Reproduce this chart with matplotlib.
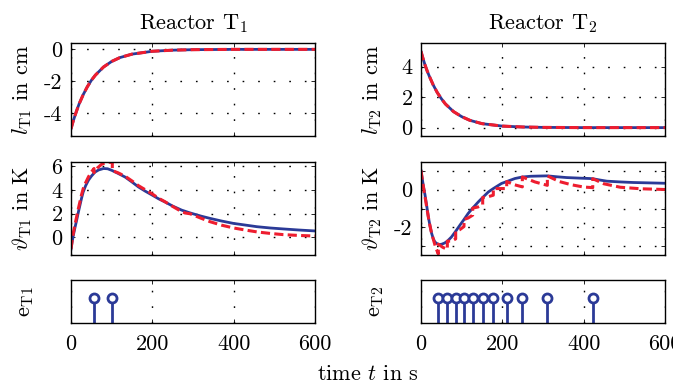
import matplotlib
matplotlib.use("Agg")
import matplotlib.pyplot as plt
from matplotlib.ticker import FuncFormatter

plt.rcParams['font.family'] = 'serif'
plt.rcParams['font.serif'] = ['cmr10']
plt.rcParams['mathtext.fontset'] = 'cm'
plt.rcParams['axes.unicode_minus'] = False

# ---------------- data ----------------
t_l = [0, 5, 10, 15, 20, 30, 40, 50, 60, 80, 100, 120, 150, 200, 250, 300, 400, 500, 600]
l1_blue = [-5.0, -4.55, -4.15, -3.78, -3.43, -2.85, -2.36, -1.95, -1.62, -1.11, -0.76, -0.52,
           -0.30, -0.12, -0.05, -0.02, 0.0, 0.0, 0.0]
l1_red = [-5.0, -4.55, -4.15, -3.78, -3.43, -2.85, -2.36, -1.95, -1.62, -1.11, -0.76, -0.52,
          -0.30, -0.12, -0.05, -0.02, 0.0, 0.0, 0.0]
l2_blue = [5.0, 4.53, 4.1, 3.73, 3.4, 2.8, 2.3, 1.9, 1.55, 1.05, 0.72, 0.48,
           0.26, 0.10, 0.04, 0.015, 0.0, 0.0, 0.0]
l2_red = [5.0, 4.53, 4.1, 3.73, 3.4, 2.8, 2.3, 1.9, 1.55, 1.05, 0.72, 0.48,
          0.26, 0.10, 0.04, 0.015, 0.0, 0.0, 0.0]

t_th1_blue = [0, 3, 6, 10, 14, 18, 22, 26, 30, 36, 43, 50, 59, 68, 80, 90, 100, 115, 133, 150,
              166, 183, 200, 215, 231, 250, 272, 293, 320, 342, 370, 399, 430, 457, 490, 522,
              560, 600]
th1_blue = [-1.0, -0.35, 0.2, 0.85, 1.45, 2.1, 2.7, 3.3, 3.82, 4.35, 4.82, 5.15, 5.5, 5.68, 5.8,
            5.78, 5.65, 5.4, 5.08, 4.66, 4.24, 3.88, 3.55, 3.25, 2.98, 2.63, 2.29, 2.05, 1.78,
            1.59, 1.37, 1.17, 1.02, 0.89, 0.78, 0.70, 0.61, 0.53]
t_th1_red = [0, 3, 6, 10, 14, 18, 22, 26, 30, 36, 43, 50, 56.6, 56.6, 65, 75, 85, 95, 101.6,
             101.6, 115, 133, 150, 166, 183, 200, 215, 231, 250, 265, 280, 293, 320, 342, 370,
             400, 430, 457, 490, 522, 560, 600]
th1_red = [-1.0, -0.25, 0.4, 1.1, 1.75, 2.4, 3.0, 3.6, 4.1, 4.6, 5.1, 5.5, 5.8, 5.45, 5.85, 6.15,
           6.3, 6.33, 6.3, 5.62, 5.45, 5.15, 4.75, 4.35, 4.0, 3.65, 3.3, 3.0, 2.6, 2.3, 2.05,
           1.98, 1.6, 1.31, 1.02, 0.78, 0.6, 0.45, 0.32, 0.22, 0.15, 0.1]

t_th2_blue = [0, 5, 10, 14, 18, 22, 26, 30, 34, 38.5, 42.6, 46, 51, 58, 64.8, 75, 85.3, 95,
              105.7, 116, 127.1, 141, 151.7, 165.5, 177.8, 198, 210.8, 231, 249.2, 270, 290,
              310.7, 335, 358, 390, 415, 422.3, 440, 457, 490, 522, 560, 600]
th2_blue = [1.0, 0.3, -0.3, -0.85, -1.44, -1.9, -2.3, -2.58, -2.76, -2.84, -2.88, -2.9, -2.88,
            -2.82, -2.72, -2.5, -2.2, -1.9, -1.58, -1.26, -0.98, -0.65, -0.42, -0.13, 0.05,
            0.32, 0.42, 0.58, 0.66, 0.70, 0.71, 0.72, 0.67, 0.63, 0.60, 0.58, 0.57, 0.50,
            0.44, 0.40, 0.37, 0.35, 0.33]
t_th2_red = [0, 5, 10, 15, 20, 25, 30, 36, 42.6,
             42.6, 54, 64.8,
             64.8, 75, 85.3,
             85.3, 95, 105.7,
             105.7, 116, 127.1,
             127.1, 140, 151.7,
             151.7, 165, 177.8,
             177.8, 195, 210.8,
             210.8, 230, 249.2,
             249.2, 280, 310.7,
             310.7, 340, 370, 400, 422.3,
             422.3, 450, 490, 540, 600]
th2_red = [1.0, 0.25, -0.4, -1.05, -1.7, -2.2, -2.6, -3.05, -3.4,
           -2.88, -3.05, -3.15,
           -2.72, -2.72, -2.6,
           -2.2, -2.12, -1.95,
           -1.58, -1.5, -1.35,
           -0.98, -0.92, -0.8,
           -0.42, -0.38, -0.3,
           0.05, 0.05, 0.05,
           0.42, 0.25, 0.14,
           0.66, 0.40, 0.22,
           0.72, 0.42, 0.25, 0.13, 0.10,
           0.57, 0.30, 0.12, 0.04, 0.0]

events_T1 = [57, 102]
events_T2 = [42.6, 64.8, 85.3, 105.7, 127.1, 151.7, 177.8, 210.8, 249.2, 310.7, 422.3]

xticks = [0, 200, 400, 600]
titles = [r"Reactor $\mathrm{T}_1$", r"Reactor $\mathrm{T}_2$"]

# ---------------- style ----------------
BLUE = '#2B3A97'
RED = '#EE1D2F'
FS = 16

fig = plt.figure(figsize=(6.73, 3.85), dpi=100)

W = 244 / 673
lefts = [71 / 673, 421 / 673]
def ypos(top, bot):
    return 1 - bot / 385, (bot - top) / 385

r1 = ypos(43, 136)
r2 = ypos(162, 255)
r3 = ypos(280, 323)

fmt = FuncFormatter(lambda v, p: f"{v:g}")

def style(ax, yticks=None, ylabels=None, xlabels=False):
    ax.set_xlim(0, 600)
    ax.set_xticks(xticks)
    if xlabels:
        ax.set_xticklabels([str(x) for x in xticks])
    else:
        ax.set_xticklabels([])
    if yticks is not None:
        ax.set_yticks(yticks)
        if ylabels is not None:
            ax.set_yticklabels(ylabels)
        else:
            ax.yaxis.set_major_formatter(fmt)
    else:
        ax.set_yticks([])
    ax.tick_params(direction='in', top=True, right=True, length=3, width=0.6,
                   labelsize=FS, pad=6)
    ax.tick_params(axis='x', pad=8)
    ax.grid(True, color='black', linestyle=(0, (1.2, 10)), linewidth=1.0)
    for s in ax.spines.values():
        s.set_linewidth(1.0)

lw_b = 2.0
lw_r = 2.2
dash = (0, (3.0, 1.4))

def ylab(ax, text, x=-0.2):
    ax.set_ylabel(text, fontsize=FS, va='center')
    ax.yaxis.set_label_coords(x, 0.5)

# Row 1
ax = fig.add_axes([lefts[0], r1[0], W, r1[1]])
ax.plot(t_l, l1_blue, color=BLUE, lw=lw_b)
ax.plot(t_l, l1_red, color=RED, lw=lw_r, linestyle=dash)
ax.set_ylim(-5.45, 0.4)
style(ax, [-4, -2, 0])
ylab(ax, r"$l_{\mathrm{T1}}$ in cm")
ax.set_title(titles[0], fontsize=FS, pad=10)

ax = fig.add_axes([lefts[1], r1[0], W, r1[1]])
ax.plot(t_l, l2_blue, color=BLUE, lw=lw_b)
ax.plot(t_l, l2_red, color=RED, lw=lw_r, linestyle=dash)
ax.set_ylim(-0.55, 5.55)
style(ax, [0, 2, 4])
ylab(ax, r"$l_{\mathrm{T2}}$ in cm")
ax.set_title(titles[1], fontsize=FS, pad=10)

# Row 2
ax = fig.add_axes([lefts[0], r2[0], W, r2[1]])
ax.plot(t_th1_blue, th1_blue, color=BLUE, lw=lw_b)
ax.plot(t_th1_red, th1_red, color=RED, lw=lw_r, linestyle=dash)
ax.set_ylim(-1.5, 6.35)
style(ax, [0, 2, 4, 6])
ylab(ax, r"$\vartheta_{\mathrm{T1}}$ in K")

ax = fig.add_axes([lefts[1], r2[0], W, r2[1]])
ax.plot(t_th2_blue, th2_blue, color=BLUE, lw=lw_b)
ax.plot(t_th2_red, th2_red, color=RED, lw=lw_r, linestyle=dash)
ax.set_ylim(-3.45, 1.45)
style(ax, [-3, -2, -1, 0, 1], ['', '-2', '', '0', ''])
ylab(ax, r"$\vartheta_{\mathrm{T2}}$ in K")

# Row 3
for i, (ev, lab) in enumerate([(events_T1, r"$\mathrm{e}_{\mathrm{T1}}$"),
                               (events_T2, r"$\mathrm{e}_{\mathrm{T2}}$")]):
    ax = fig.add_axes([lefts[i], r3[0], W, r3[1]])
    ml, sl, bl = ax.stem(ev, [1.0] * len(ev), basefmt=' ')
    plt.setp(sl, color=BLUE, linewidth=2.0)
    plt.setp(ml, color=BLUE, markersize=6.5, markerfacecolor='white', markeredgewidth=2.0)
    ax.set_ylim(0, 1.7)
    style(ax, None, xlabels=True)
    ylab(ax, lab, -0.185)

fig.text(368 / 673, 1 - 374 / 385, r"time $t$ in s", fontsize=FS, ha='center', va='center')

fig.savefig("out.png", dpi=100)
